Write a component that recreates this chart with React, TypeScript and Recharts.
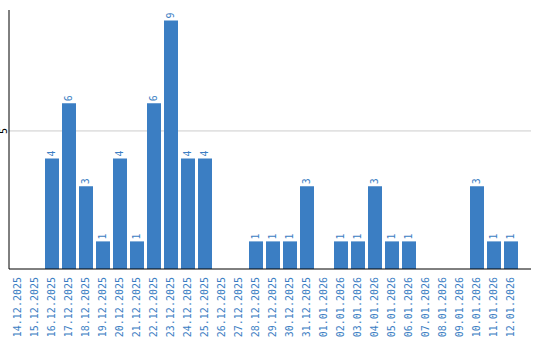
import { BarChart, Bar, XAxis, YAxis, CartesianGrid, LabelList } from 'recharts';

const dates = [
  '14.12.2025', '15.12.2025', '16.12.2025', '17.12.2025', '18.12.2025', '19.12.2025',
  '20.12.2025', '21.12.2025', '22.12.2025', '23.12.2025', '24.12.2025', '25.12.2025',
  '26.12.2025', '27.12.2025', '28.12.2025', '29.12.2025', '30.12.2025', '31.12.2025',
  '01.01.2026', '02.01.2026', '03.01.2026', '04.01.2026', '05.01.2026', '06.01.2026',
  '07.01.2026', '08.01.2026', '09.01.2026', '10.01.2026', '11.01.2026', '12.01.2026',
];
const counts = [0, 0, 4, 6, 3, 1, 4, 1, 6, 9, 4, 4, 0, 0, 1, 1, 1, 3, 0, 1, 1, 3, 1, 1, 0, 0, 0, 3, 1, 1];
const yTicks = [5];

const data = dates.map((d, i) => ({ date: d, count: counts[i] }));

const BLUE = '#3b7ec3';
const FONT = '"DejaVu Sans Mono", monospace';

const DateTick = (props: any) => {
  const { x, y, payload } = props;
  return (
    <text
      x={x}
      y={y}
      transform={`rotate(-90, ${x}, ${y})`}
      textAnchor="end"
      dominantBaseline="central"
      fill={BLUE}
      fontSize={10}
      fontFamily={FONT}
    >
      {payload.value}
    </text>
  );
};

const CountTick = (props: any) => {
  const { y, payload } = props;
  const x = 4;
  return (
    <text
      x={x}
      y={y}
      transform={`rotate(-90, ${x}, ${y})`}
      textAnchor="middle"
      dominantBaseline="central"
      fill="#000"
      fontSize={10}
      fontFamily={FONT}
    >
      {payload.value}
    </text>
  );
};

const ValueLabel = (props: any) => {
  const { x, y, width, value } = props;
  if (!value) return null;
  const cx = x + width / 2;
  const ty = y - 2;
  return (
    <text
      x={cx}
      y={ty}
      transform={`rotate(-90, ${cx}, ${ty})`}
      textAnchor="start"
      dominantBaseline="central"
      fill={BLUE}
      fontSize={10}
      fontFamily={FONT}
    >
      {value}
    </text>
  );
};

export default function App() {
  return (
    <div style={{ position: 'absolute', left: 0, top: 0, width: 540, height: 340, background: '#fff' }}>
      <BarChart width={540} height={340} data={data} margin={{ top: 10, right: 9, left: -1, bottom: 0 }}>
        <CartesianGrid vertical={false} stroke="#cccccc" horizontalValues={yTicks} />
        <XAxis
          dataKey="date"
          interval={0}
          height={71}
          tickLine={false}
          axisLine={{ stroke: '#000' }}
          tick={<DateTick />}
          tickMargin={2}
          padding={{ left: 0, right: 12 }}
        />
        <YAxis
          width={10}
          domain={[0, 9.38]}
          ticks={yTicks}
          tickLine={false}
          axisLine={{ stroke: '#000' }}
          tick={<CountTick />}
        />
        <Bar dataKey="count" fill={BLUE} barSize={14} isAnimationActive={false}>
          <LabelList dataKey="count" content={<ValueLabel />} />
        </Bar>
      </BarChart>
    </div>
  );
}
